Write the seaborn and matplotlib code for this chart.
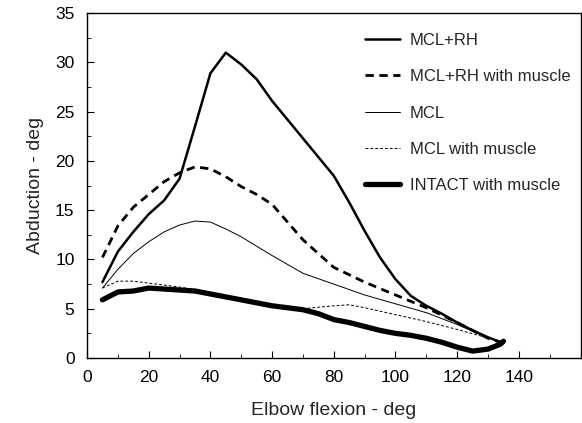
import matplotlib
matplotlib.use("Agg")
import matplotlib.pyplot as plt
import seaborn as sns
import pandas as pd
from matplotlib.ticker import MultipleLocator

# curves (elbow flexion deg -> abduction deg)
mcl_rh_x = [5, 10, 15, 20, 25, 30, 35, 40, 45, 50, 55, 60, 70, 80, 85, 90, 95, 100, 105, 110, 115, 120, 125, 130, 135]
mcl_rh_y = [7.7, 10.8, 12.8, 14.6, 16.0, 18.2, 23.5, 28.9, 31.0, 29.8, 28.3, 26.1, 22.3, 18.5, 15.8, 12.9, 10.2, 8.0, 6.3, 5.3, 4.5, 3.6, 2.8, 2.1, 1.5]

mcl_rh_m_x = [5, 10, 15, 20, 25, 30, 35, 40, 45, 50, 55, 60, 70, 80, 90, 100, 110, 120, 130, 135]
mcl_rh_m_y = [10.2, 13.4, 15.3, 16.6, 17.9, 18.8, 19.4, 19.2, 18.4, 17.4, 16.6, 15.6, 12.0, 9.2, 7.7, 6.4, 5.1, 3.6, 2.0, 1.5]

mcl_x = [5, 10, 15, 20, 25, 30, 35, 40, 45, 50, 60, 70, 80, 90, 100, 110, 120, 128]
mcl_y = [7.1, 9.0, 10.6, 11.8, 12.8, 13.5, 13.9, 13.8, 13.1, 12.3, 10.4, 8.6, 7.5, 6.4, 5.5, 4.6, 3.4, 2.3]

mcl_m_x = [5, 10, 15, 20, 30, 40, 50, 60, 70, 80, 85, 90, 100, 110, 120, 128]
mcl_m_y = [7.1, 7.8, 7.8, 7.6, 7.2, 6.7, 6.0, 5.3, 5.0, 5.3, 5.4, 5.1, 4.4, 3.7, 2.9, 2.2]

intact_x = [5, 10, 15, 20, 25, 30, 35, 40, 45, 50, 55, 60, 65, 70, 75, 80, 85, 90, 95, 100, 105, 110, 115, 120, 125, 130, 134, 135]
intact_y = [5.9, 6.7, 6.8, 7.1, 7.0, 6.9, 6.8, 6.5, 6.2, 5.9, 5.6, 5.3, 5.1, 4.9, 4.5, 3.9, 3.6, 3.2, 2.8, 2.5, 2.3, 2.0, 1.6, 1.1, 0.7, 0.9, 1.4, 1.7]

labels = ["MCL+RH", "MCL+RH with muscle", "MCL", "MCL with muscle", "INTACT with muscle"]

sns.set_style("ticks")
plt.rcParams['font.family'] = ['Liberation Sans', 'DejaVu Sans']

fig = plt.figure(figsize=(5.82, 4.23), dpi=100)
ax = fig.add_axes([0.1495, 0.1537, 0.848, 0.815])

series = [
    (mcl_rh_x, mcl_rh_y, dict(lw=1.8, ls='-')),
    (mcl_rh_m_x, mcl_rh_m_y, dict(lw=2.0, ls=(0, (3, 2)))),
    (mcl_x, mcl_y, dict(lw=0.7, ls='-')),
    (mcl_m_x, mcl_m_y, dict(lw=0.7, ls=(0, (3, 2)))),
    (intact_x, intact_y, dict(lw=3.8, ls='-')),
]
for (xs, ys, st), lab in zip(series, labels):
    df = pd.DataFrame({'x': xs, 'y': ys})
    sns.lineplot(data=df, x='x', y='y', ax=ax, sort=False, color='black',
                 linewidth=st['lw'], linestyle=st['ls'], label=lab)

ax.set_xlim(0, 160)
ax.set_ylim(0, 35)
ax.set_xticks([0, 20, 40, 60, 80, 100, 120, 140])
ax.set_yticks(range(0, 36, 5))
ax.xaxis.set_minor_locator(MultipleLocator(10))
ax.yaxis.set_minor_locator(MultipleLocator(2.5))
ax.tick_params(which='both', direction='in', labelsize=12.5, colors='black', pad=9)
ax.tick_params(which='major', length=5)
ax.tick_params(which='minor', length=3)
for sp in ax.spines.values():
    sp.set_linewidth(1.0)
    sp.set_color('black')

ax.set_xlabel("Elbow flexion - deg", fontsize=14, labelpad=12)
ax.set_ylabel("Abduction - deg", fontsize=14, labelpad=8)

ax.legend(loc='upper left', frameon=False, fontsize=12, handlelength=2.1,
          labelspacing=1.28, borderpad=0, borderaxespad=0, handletextpad=0.6,
          bbox_to_anchor=(365 / 582, 1 - 33 / 423), bbox_transform=fig.transFigure)

fig.savefig("out.png", dpi=100)
